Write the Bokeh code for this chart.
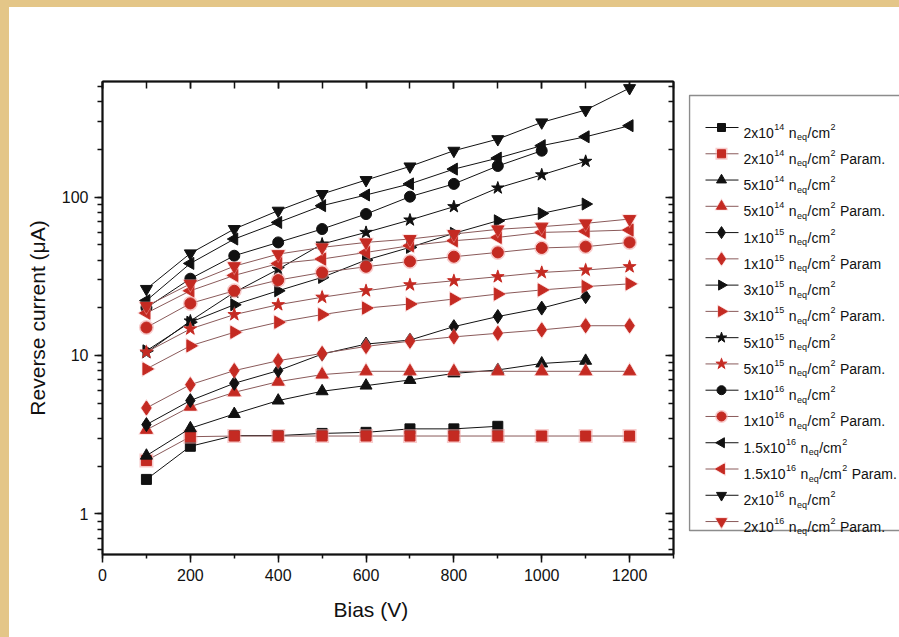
import numpy as np
from bokeh.plotting import figure
from bokeh.models import (Range1d, LogAxis, LinearAxis, LogTicker, SingleIntervalTicker,
                          LogTickFormatter, CustomJSTickFormatter, Title)
from bokeh.layouts import row, column
from bokeh.embed import file_html
from bokeh.resources import INLINE
from bokeh.core.properties import value

# ---------------- data ----------------
bias = [100, 200, 300, 400, 500, 600, 700, 800, 900, 1000, 1100, 1200]

i_2e14 = [1.65, 2.67, 3.12, 3.12, 3.22, 3.27, 3.44, 3.44, 3.57]
i_2e14_par = [2.17, 3.07, 3.1, 3.1, 3.1, 3.1, 3.1, 3.1, 3.1, 3.1, 3.1, 3.1]
i_5e14 = [2.33, 3.47, 4.27, 5.19, 5.94, 6.45, 7.0, 7.7, 8.1, 8.9, 9.25]
i_5e14_par = [3.39, 4.75, 5.85, 6.83, 7.57, 7.94, 7.94, 7.94, 7.94, 7.94, 7.94, 7.94]
i_1e15 = [3.66, 5.19, 6.67, 8.02, 10.2, 11.8, 12.5, 15.2, 17.6, 19.9, 23.5]
i_1e15_par = [4.66, 6.54, 8.02, 9.27, 10.3, 11.4, 12.3, 13.1, 13.8, 14.5, 15.4, 15.4]
i_3e15 = [10.7, 16.2, 20.9, 25.6, 31.1, 40.0, 48.1, 59.0, 70.8, 78.8, 90.3]
i_3e15_par = [8.22, 11.5, 14.0, 16.2, 18.1, 19.9, 21.1, 22.7, 24.4, 25.9, 27.2, 28.3]
i_5e15 = [10.4, 16.5, 25.0, 35.0, 50.5, 59.8, 71.6, 86.9, 114.0, 138.0, 168.0]
i_5e15_par = [10.5, 14.7, 18.1, 20.9, 23.3, 25.6, 27.9, 29.6, 31.4, 33.4, 34.6, 36.3]
i_1e16 = [20.0, 30.5, 42.6, 51.7, 62.8, 78.1, 100.5, 121.0, 157.0, 196.0]
i_1e16_par = [15.0, 21.3, 25.6, 29.9, 33.4, 36.3, 39.2, 42.0, 44.7, 47.7, 48.6, 51.7]
i_15e16 = [22.2, 38.1, 54.3, 69.1, 88.2, 103.0, 121.0, 150.0, 176.0, 211.0, 240.0, 282.0]
i_15e16_par = [18.5, 25.6, 32.0, 38.0, 40.6, 44.7, 49.3, 53.0, 55.6, 59.8, 60.7, 61.9]
i_2e16 = [26.3, 44.1, 62.8, 82.0, 104.5, 128.0, 156.0, 196.0, 232.0, 296.0, 354.0, 487.0]
i_2e16_par = [20.5, 28.3, 36.6, 43.6, 48.1, 51.7, 54.3, 58.4, 62.5, 65.0, 68.2, 72.6]

legend_coef = ["2x10", "2x10", "5x10", "5x10", "1x10", "1x10", "3x10", "3x10",
               "5x10", "5x10", "1x10", "1x10", "1.5x10", "1.5x10", "2x10", "2x10"]
legend_exp = ["14", "14", "14", "14", "15", "15", "15", "15",
              "15", "15", "16", "16", "16", "16", "16", "16"]
legend_suffix = ["", "Param.", "", "Param.", "", "Param", "", "Param.",
                 "", "Param.", "", "Param.", "", "Param.", "", "Param."]

x_axis_title = "Bias (V)"
y_axis_title = "Reverse current (\u03bcA)"

# ---------------- styles ----------------
BLACK = "#111111"
RED = "#c42a22"
RED_LINE = "#8a5a5a"
HALO = "#f3a3a3"
FONT = "Liberation Sans"

series = [
    (i_2e14, "square", 0.0, False, 10),
    (i_2e14_par, "square", 0.0, True, 10),
    (i_5e14, "triangle", 0.0, False, 12),
    (i_5e14_par, "triangle", 0.0, True, 12),
    (i_1e15, "diamond", 0.0, False, 14),
    (i_1e15_par, "diamond", 0.0, True, 14),
    (i_3e15, "triangle", -np.pi / 2, False, 12),
    (i_3e15_par, "triangle", -np.pi / 2, True, 12),
    (i_5e15, "star", 0.0, False, 13),
    (i_5e15_par, "star", 0.0, True, 13),
    (i_1e16, "circle", 0.0, False, 11),
    (i_1e16_par, "circle", 0.0, True, 11),
    (i_15e16, "triangle", np.pi / 2, False, 12),
    (i_15e16_par, "triangle", np.pi / 2, True, 12),
    (i_2e16, "inverted_triangle", 0.0, False, 12),
    (i_2e16_par, "inverted_triangle", 0.0, True, 12),
]

blank = CustomJSTickFormatter(code="return ''")

# ---------------- main figure ----------------
p = figure(width=679, height=630, y_axis_type="log",
           x_range=Range1d(0, 1300), y_range=Range1d(0.554, 536),
           output_backend="svg", toolbar_location=None,
           min_border_left=93, min_border_right=15, min_border_top=74, min_border_bottom=83,
           background_fill_color="white", border_fill_color="white")
p.grid.visible = False
p.outline_line_color = BLACK
p.outline_line_width = 1.5

xa = p.xaxis[0]
xa.ticker = SingleIntervalTicker(interval=200, num_minor_ticks=2)
xa.major_tick_out = 8
xa.major_tick_in = 0
xa.minor_tick_out = 4
xa.minor_tick_in = 0
xa.axis_line_width = 2
xa.major_tick_line_width = 1.5
xa.minor_tick_line_width = 1.5
xa.axis_line_color = BLACK
xa.major_tick_line_color = BLACK
xa.minor_tick_line_color = BLACK
xa.major_label_text_font = FONT
xa.major_label_text_font_size = "16px"
xa.major_label_text_color = BLACK
xa.major_label_standoff = 6

ya = p.yaxis[0]
ya.ticker = LogTicker(num_minor_ticks=10)
ya.formatter = LogTickFormatter(min_exponent=4)
ya.major_tick_out = 8
ya.major_tick_in = 0
ya.minor_tick_out = 5
ya.minor_tick_in = 0
ya.axis_line_width = 2
ya.major_tick_line_width = 1.5
ya.minor_tick_line_width = 1.5
ya.axis_line_color = BLACK
ya.major_tick_line_color = BLACK
ya.minor_tick_line_color = BLACK
ya.major_label_text_font = FONT
ya.major_label_text_font_size = "16px"
ya.major_label_text_color = BLACK
ya.major_label_standoff = 6
ya.axis_label = y_axis_title
ya.axis_label_text_font = FONT
ya.axis_label_text_font_size = "21px"
ya.axis_label_text_font_style = "normal"
ya.axis_label_text_color = BLACK
ya.axis_label_standoff = 10

ra = LogAxis(ticker=LogTicker(num_minor_ticks=10), formatter=blank,
             major_label_standoff=0, major_tick_in=8, major_tick_out=0,
             minor_tick_in=5, minor_tick_out=0, axis_line_width=2,
             major_tick_line_width=1.5, minor_tick_line_width=1.5,
             axis_line_color=BLACK, major_tick_line_color=BLACK, minor_tick_line_color=BLACK)
p.add_layout(ra, "right")

ta = LinearAxis(ticker=SingleIntervalTicker(interval=200, num_minor_ticks=2), formatter=blank,
                major_label_standoff=0,
                major_tick_in=7, major_tick_out=0, minor_tick_in=7, minor_tick_out=0,
                axis_line_width=2, major_tick_line_width=1.5, minor_tick_line_width=1.5,
                axis_line_color=BLACK, major_tick_line_color=BLACK, minor_tick_line_color=BLACK)
p.add_layout(ta, "above")

# x axis title: set below the axis, a little left of centre as in the reference
p.add_layout(Title(text=x_axis_title, align="left", offset=231, standoff=24,
                   vertical_align="bottom",
                   text_font=FONT, text_font_size="21px", text_font_style="normal",
                   text_color=BLACK), "below")

for vals, marker, ang, is_par, size in series:
    xs = bias[:len(vals)]
    if is_par:
        p.line(xs, vals, line_color=RED_LINE, line_width=1)
        p.scatter(xs, vals, marker=marker, angle=ang, size=size + 4, fill_color=HALO,
                  fill_alpha=0.55, line_color=None)
        p.scatter(xs, vals, marker=marker, angle=ang, size=size, fill_color=RED,
                  line_color=RED, line_width=1)
    else:
        p.line(xs, vals, line_color=BLACK, line_width=1)
        p.scatter(xs, vals, marker=marker, angle=ang, size=size, fill_color=BLACK,
                  line_color=BLACK, line_width=1)

# ---------------- legend figure (coordinates = page pixels) ----------------
leg = figure(width=211, height=630, x_range=Range1d(688, 899), y_range=Range1d(554, 81),
             output_backend="svg", toolbar_location=None,
             min_border_left=0, min_border_right=0, min_border_top=74, min_border_bottom=83,
             background_fill_color="white", border_fill_color="white")
leg.axis.visible = False
leg.grid.visible = False
leg.outline_line_color = None
leg.line([905, 689, 689, 905], [95, 95, 530, 530], line_color="#8c8c8c", line_width=1.5)

W = {"0": .556, "1": .556, "2": .556, "3": .556, "4": .556, "5": .556, "6": .556,
     ".": .278, "x": .5, " ": .278, "n": .556, "/": .278, "c": .5, "m": .833,
     "P": .667, "a": .556, "r": .333, "e": .556, "q": .556}


def tw(s, fs):
    return sum(W.get(ch, .556) for ch in s) * fs


BASE_FS = 14
SMALL_FS = 9
SPACE = 0.278 * BASE_FS
base_x, base_y, base_t = [], [], []
small_x, small_y, small_t = [], [], []
seg_x0, seg_x1, seg_y, seg_c = [], [], [], []
row_h = 26.27
for i, (vals, marker, ang, is_par, size) in enumerate(series):
    yr = 127 + row_h * i
    lc = RED_LINE if is_par else BLACK
    seg_x0.append(705); seg_x1.append(738); seg_y.append(yr); seg_c.append(lc)
    yb = yr + 5
    cx = 743.0
    # (text, kind, gap before) ; kind 0 = normal, 1 = superscript, -1 = subscript
    pieces = [(legend_coef[i], 0, 0), (legend_exp[i], 1, 0), ("n", 0, SPACE), ("eq", -1, 0),
              ("/cm", 0, 0), ("2", 1, 0), (legend_suffix[i], 0, SPACE)]
    for txt, kind, gap in pieces:
        if not txt:
            continue
        cx += gap
        if kind == 0:
            base_x.append(cx); base_y.append(yb); base_t.append(txt)
            cx += tw(txt, BASE_FS)
        else:
            small_x.append(cx + 0.5)
            small_y.append(yb - 6 if kind == 1 else yb + 4.5)
            small_t.append(txt)
            cx += tw(txt, SMALL_FS) + 1

leg.segment(x0=seg_x0, y0=seg_y, x1=seg_x1, y1=seg_y, line_color=seg_c, line_width=1)
for i, (vals, marker, ang, is_par, size) in enumerate(series):
    yr = 127 + row_h * i
    if is_par:
        leg.scatter([721], [yr], marker=marker, angle=ang, size=size + 2, fill_color=HALO,
                    fill_alpha=0.55, line_color=None)
        leg.scatter([721], [yr], marker=marker, angle=ang, size=size - 2, fill_color=RED,
                    line_color=RED)
    else:
        leg.scatter([721], [yr], marker=marker, angle=ang, size=size - 2, fill_color=BLACK,
                    line_color=BLACK)

leg.text(base_x, base_y, text=base_t, text_font=value(FONT), text_font_size=f"{BASE_FS}px",
         text_align="left", text_baseline="alphabetic", text_color=BLACK)
leg.text(small_x, small_y, text=small_t, text_font=value(FONT), text_font_size=f"{SMALL_FS}px",
         text_align="left", text_baseline="alphabetic", text_color=BLACK)

inner = row(p, leg, spacing=0, margin=(7, 0, 0, 9), styles={"background-color": "white"})
layout = column(inner, styles={"background-color": "#e4c688"})

open("out.html", "w").write(file_html(layout, INLINE))
